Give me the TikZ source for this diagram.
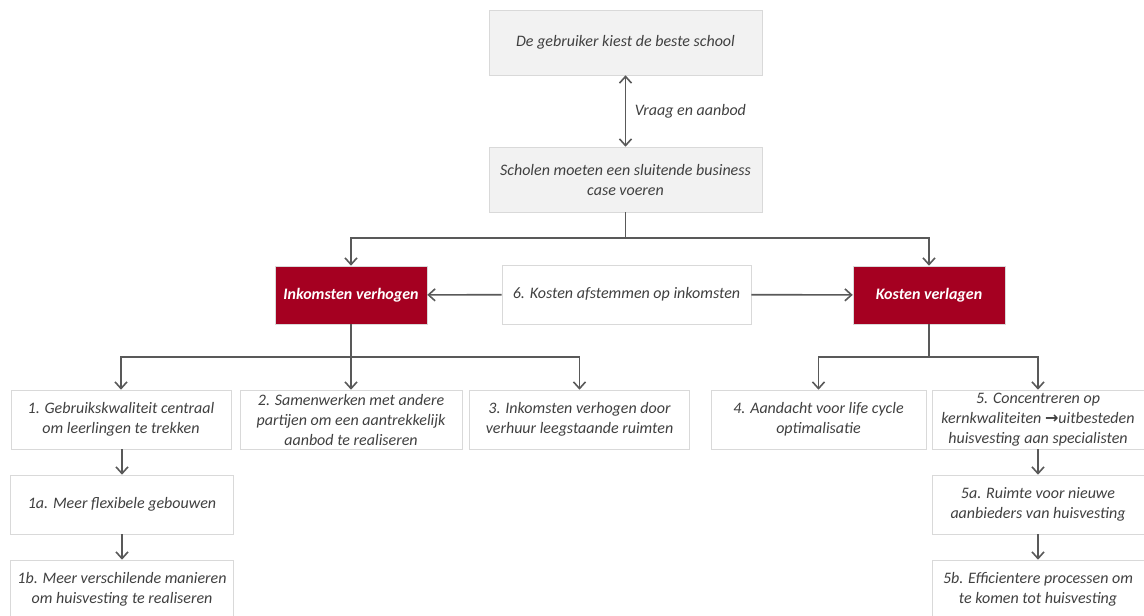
\documentclass[tikz,border=0pt]{standalone}
\usepackage{amsmath}
\usepackage{fontspec}
\setmainfont{Carlito}
\newfontfamily\symfont{DejaVu Sans}
\usepackage{xcolor}
\usepackage{tikz}
\usetikzlibrary{arrows.meta,positioning,calc}
\definecolor{boxline}{HTML}{D9D9D9}
\definecolor{boxfill}{HTML}{F2F2F2}
\definecolor{darkred}{HTML}{A50021}
\definecolor{txtgray}{HTML}{404040}
\definecolor{arrgray}{HTML}{595959}
\tikzset{
  gbox/.style={draw=boxline, fill=boxfill, align=center, text=txtgray,
               font=\fontsize{12}{15}\selectfont\itshape, inner sep=2pt,
               minimum width=204.75pt, minimum height=48.75pt},
  wbox/.style={draw=boxline, fill=white, align=center, text=txtgray,
               font=\fontsize{12}{15}\selectfont\itshape, inner sep=2pt,
               minimum width=165pt, minimum height=44.25pt},
  rbox/.style={draw=boxline, fill=darkred, align=center, text=white,
               font=\fontsize{12}{15}\selectfont\bfseries\itshape, inner sep=2pt,
               minimum width=114pt, minimum height=43.5pt},
  flow/.style={-{Straight Barb[length=5pt,width=9pt,line width=1.2pt]}, draw=arrgray, line width=1.2pt},
  twoway/.style={{Straight Barb[length=5pt,width=9pt,line width=1.2pt]}-{Straight Barb[length=5pt,width=9pt,line width=1.2pt]}, draw=arrgray, line width=1.2pt},
  plain/.style={draw=arrgray, line width=1.2pt},
}
\begin{document}
\begin{tikzpicture}[x=0.75pt,y=-0.75pt]
  \useasboundingbox (0,0) rectangle (1144,615);
  % top of the tree
  \node[gbox] (user) at (625.5,42.5) {De gebruiker kiest de beste school};
  \node[gbox] (case) at (625.5,179.5) {Scholen moeten een sluitende business\\ case voeren};
  \draw[twoway] (user) -- node[right=3pt, text=txtgray, font=\fontsize{12}{15}\selectfont\itshape] (market) {Vraag en aanbod} (case);
  % red boxes
  \node[rbox] (income) at (351,295) {Inkomsten verhogen};
  \node[rbox] (costs) at (929,295) {Kosten verlagen};
  \node[wbox, minimum width=186.75pt] (match) at (626.5,294.5) {6. Kosten afstemmen op inkomsten};
  \coordinate (split) at (625.5,238);
  \draw[plain] (case) -- (split);
  \draw[flow] (split) -| (income);
  \draw[flow] (split) -| (costs);
  \draw[flow] (match) -- (income);
  \draw[flow] (match) -- (costs);
  % income side
  \node[wbox] (quality) at (121,419.5) {1. Gebruikskwaliteit centraal\\ om leerlingen te trekken};
  \node[wbox, minimum width=166.5pt] (partner) at (351,419.5) {2. Samenwerken met andere\\ partijen om een aantrekkelijk\\ aanbod te realiseren};
  \node[wbox] (rent) at (579.5,419.5) {3. Inkomsten verhogen door\\ verhuur leegstaande ruimten};
  \node[wbox, minimum width=167pt] (flexible) at (122,504.5) {1a. Meer flexibele gebouwen};
  \node[wbox, minimum width=167pt] (ways) at (122,589.5) {1b. Meer verschilende manieren\\ om huisvesting te realiseren};
  \coordinate (isplit) at (351,357);
  \draw[plain] (income) -- (isplit);
  \draw[flow] (isplit) -| (quality);
  \draw[flow] (isplit) -- (partner);
  \draw[flow] (isplit) -| (rent);
  \draw[flow] (quality.south -| flexible.north) -- (flexible);
  \draw[flow] (flexible) -- (ways);
  % cost side
  \node[wbox, minimum width=161pt] (life) at (818.5,419.5) {4. Aandacht voor life cycle\\ optimalisatie};
  \node[wbox, minimum width=159pt] (core) at (1038,419.5) {5. Concentreren op\\ kernkwaliteiten {\symfont\bfseries →}uitbesteden\\ huisvesting aan specialisten};
  \node[wbox, minimum width=159pt] (newcomers) at (1038,504.5) {5a. Ruimte voor nieuwe\\ aanbieders van huisvesting};
  \node[wbox, minimum width=159pt] (process) at (1038,589.5) {5b. Efficientere processen om\\ te komen tot huisvesting};
  \coordinate (csplit) at (929,357);
  \draw[plain] (costs) -- (csplit);
  \draw[flow] (csplit) -| (life);
  \draw[flow] (csplit) -| (core);
  \draw[flow] (core) -- (newcomers);
  \draw[flow] (newcomers) -- (process);
\end{tikzpicture}
\end{document}
